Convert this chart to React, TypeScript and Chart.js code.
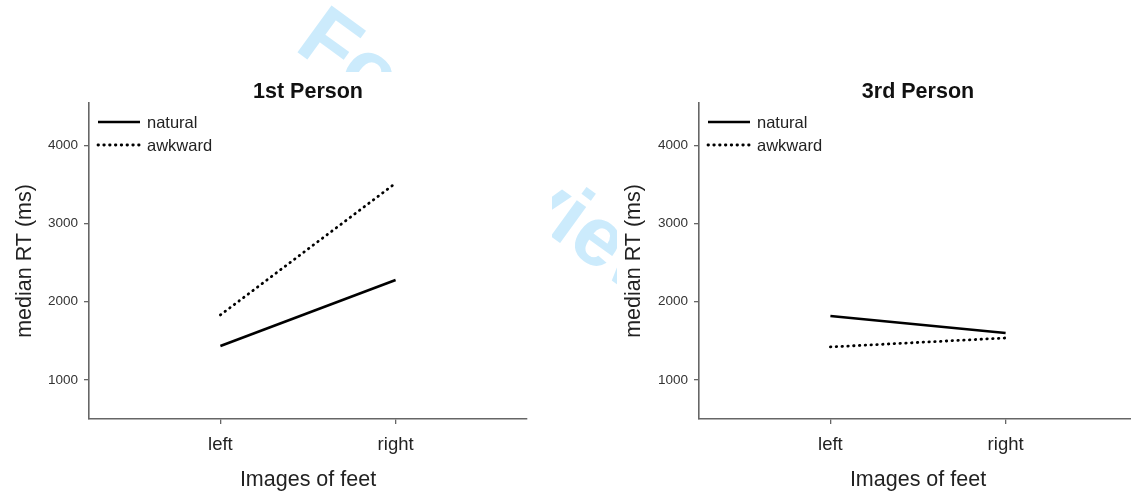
import React, { useEffect, useRef } from "react";
import { Chart, registerables } from "chart.js";

Chart.register(...registerables);

const categories = ["left", "right"];
const categoryPositions = [1, 2];
const yTickValues = [1000, 2000, 3000, 4000];
const seriesNames = ["natural", "awkward"];
const firstNatural = [1434, 2277];
const firstAwkward = [1830, 3515];
const thirdNatural = [1817, 1600];
const thirdAwkward = [1421, 1536];
const panelTitles = ["1st Person", "3rd Person"];
const xAxisTitle = "Images of feet";
const yAxisTitle = "median RT (ms)";
const watermarkText = "For Review";

const FONT = '"Liberation Sans", Arial, sans-serif';
const AXIS_COLOR = "#666";

const overlayPlugin = {
  id: "overlay",
  afterDraw(chart: any, _args: any, opts: any) {
    const { ctx, chartArea } = chart;
    ctx.save();
    ctx.fillStyle = "#111";
    ctx.font = `bold 21.5px ${FONT}`;
    ctx.textAlign = "center";
    ctx.textBaseline = "alphabetic";
    ctx.fillText(opts.title, (chartArea.left + chartArea.right) / 2, 26);
    chart.data.datasets.forEach((ds: any, i: number) => {
      const y = chartArea.top + 19 + i * 23;
      ctx.beginPath();
      ctx.setLineDash(ds.borderDash || []);
      ctx.lineCap = ds.borderCapStyle || "butt";
      ctx.lineWidth = ds.borderWidth;
      ctx.strokeStyle = ds.borderColor;
      ctx.moveTo(chartArea.left + 9, y);
      ctx.lineTo(chartArea.left + 51, y);
      ctx.stroke();
      ctx.setLineDash([]);
      ctx.font = `16.5px ${FONT}`;
      ctx.textAlign = "left";
      ctx.fillStyle = "#222";
      ctx.fillText(ds.label, chartArea.left + 58, y + 6);
    });
    ctx.restore();
  },
};

type PanelProps = {
  title: string;
  natural: number[];
  awkward: number[];
  left: number;
  width: number;
  yAxisWidth: number;
  yTitlePad: number;
  rightPad: number;
};

function Panel(props: PanelProps) {
  const ref = useRef<HTMLCanvasElement | null>(null);
  useEffect(() => {
    if (!ref.current) return;
    const gridOpts = {
      drawOnChartArea: false,
      drawTicks: true,
      tickLength: 5,
      color: AXIS_COLOR,
      lineWidth: 1.3,
    };
    const borderOpts = { display: true, color: AXIS_COLOR, width: 1.6 };
    const chart = new Chart(ref.current, {
      type: "line",
      data: {
        datasets: [
          {
            label: seriesNames[0],
            data: categoryPositions.map((x, i) => ({ x, y: props.natural[i] })),
            borderColor: "#000",
            borderWidth: 2.6,
            pointRadius: 0,
            fill: false,
            tension: 0,
          },
          {
            label: seriesNames[1],
            data: categoryPositions.map((x, i) => ({ x, y: props.awkward[i] })),
            borderColor: "#000",
            borderWidth: 2.8,
            borderDash: [0.5, 5.3],
            borderCapStyle: "round",
            pointRadius: 0,
            fill: false,
            tension: 0,
          },
        ],
      },
      options: {
        animation: false,
        responsive: false,
        maintainAspectRatio: false,
        devicePixelRatio: 1,
        events: [],
        layout: { padding: { left: 0, right: props.rightPad, top: 31, bottom: 0 } },
        plugins: {
          legend: { display: false },
          title: { display: false },
          tooltip: { enabled: false },
          overlay: { title: props.title },
        } as any,
        scales: {
          x: {
            type: "linear",
            min: 0.25,
            max: 2.75,
            afterBuildTicks: (s: any) => {
              s.ticks = categoryPositions.map((v) => ({ value: v }));
            },
            afterFit: (s: any) => {
              s.height = 82;
            },
            ticks: {
              autoSkip: false,
              maxRotation: 0,
              padding: 10,
              color: "#222",
              font: { family: FONT, size: 18.5 },
              callback: (v: any) => {
                const idx = categoryPositions.indexOf(Number(v));
                return idx >= 0 ? categories[idx] : "";
              },
            },
            grid: gridOpts,
            border: borderOpts,
            title: {
              display: true,
              text: xAxisTitle,
              color: "#222",
              font: { family: FONT, size: 21.5 },
              padding: { top: 0, bottom: 8 },
            },
          },
          y: {
            type: "linear",
            min: 500,
            max: 4540,
            afterBuildTicks: (s: any) => {
              s.ticks = yTickValues.map((v) => ({ value: v }));
            },
            afterFit: (s: any) => {
              s.width = props.yAxisWidth;
            },
            ticks: {
              padding: 6,
              color: "#333",
              font: { family: FONT, size: 13.5 },
              callback: (v: any) => String(v),
            },
            grid: gridOpts,
            border: borderOpts,
            title: {
              display: true,
              text: yAxisTitle,
              color: "#222",
              font: { family: FONT, size: 21.5 },
              padding: { top: props.yTitlePad, bottom: 0 },
            },
          },
        },
      } as any,
      plugins: [overlayPlugin as any],
    });
    return () => chart.destroy();
  }, []);
  return (
    <canvas
      ref={ref}
      width={props.width}
      height={429}
      style={{
        position: "absolute",
        left: props.left,
        top: 72,
        width: props.width,
        height: 429,
        background: "#fff",
      }}
    />
  );
}

function Watermark() {
  const ref = useRef<HTMLCanvasElement | null>(null);
  useEffect(() => {
    const c = ref.current;
    if (!c) return;
    const ctx = c.getContext("2d");
    if (!ctx) return;
    ctx.clearRect(0, 0, c.width, c.height);
    ctx.save();
    ctx.translate(293, 49);
    ctx.rotate((36 * Math.PI) / 180);
    ctx.font = `bold 84px ${FONT}`;
    ctx.fillStyle = "rgb(204,235,252)";
    ctx.textBaseline = "alphabetic";
    ctx.fillText(watermarkText, 0, 0);
    ctx.restore();
  }, []);
  return (
    <canvas
      ref={ref}
      width={1131}
      height={501}
      style={{ position: "absolute", left: 0, top: 0, width: 1131, height: 501 }}
    />
  );
}

export default function App() {
  return (
    <div
      style={{
        position: "absolute",
        left: 0,
        top: 0,
        width: 1131,
        height: 501,
        overflow: "hidden",
        background: "#fff",
      }}
    >
      <Watermark />
      <Panel
        title={panelTitles[0]}
        natural={firstNatural}
        awkward={firstAwkward}
        left={0}
        width={552}
        yAxisWidth={89}
        yTitlePad={12}
        rightPad={25}
      />
      <Panel
        title={panelTitles[1]}
        natural={thirdNatural}
        awkward={thirdAwkward}
        left={617}
        width={530}
        yAxisWidth={82}
        yTitlePad={4}
        rightPad={10}
      />
    </div>
  );
}
